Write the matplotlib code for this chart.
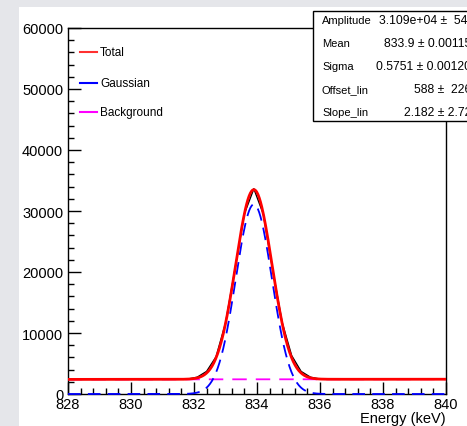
import matplotlib
matplotlib.use("Agg")
import matplotlib.pyplot as plt
import numpy as np
from matplotlib.lines import Line2D
from matplotlib.patches import Rectangle

plt.rcParams['font.family'] = ['Liberation Sans', 'DejaVu Sans']

energy = [828.0, 828.5, 829.1, 829.7, 830.3, 830.9, 831.5, 831.8, 832.1, 832.4,
          832.7, 833.0, 833.3, 833.6, 833.9, 834.2, 834.5, 834.8, 835.1, 835.4,
          835.7, 836.0, 836.3, 836.9, 837.5, 838.1, 838.7, 839.3, 839.9, 840.0]
counts = [2395, 2398, 2400, 2399, 2402, 2401, 2404, 2445, 2750, 3700,
          6100, 11600, 20450, 29550, 33650, 29500, 20300, 11700, 6300, 3700,
          2750, 2450, 2413, 2412, 2414, 2416, 2418, 2419, 2420, 2421]

# --- fit results (stats box) ---
amplitude = 3.109e4
mean = 833.9
sigma = 0.5751
offset_lin = 588
slope_lin = 2.182
stat_names = ['Amplitude', 'Mean', 'Sigma', 'Offset_lin', 'Slope_lin']
stat_values = ['3.109e+04 ±  54.', '833.9 ± 0.00115', '0.5751 ± 0.00120',
               '588 ±  226', '2.182 ± 2.72']

x_range = (828, 840)
y_range = (0, 60000)
x_ticks = [828, 830, 832, 834, 836, 838, 840]
y_ticks = [0, 10000, 20000, 30000, 40000, 50000, 60000]

W, H = 467, 427
fig = plt.figure(figsize=(W / 100, H / 100), dpi=100, facecolor='#e5e6ea')

def fx(px):
    return px / W

def fy(py):
    return 1 - py / H

# white pad area
fig.add_artist(Rectangle((fx(19), 0), 1, fy(8), transform=fig.transFigure,
                         facecolor='white', edgecolor='none', zorder=0))

ax = fig.add_axes([fx(68), fy(395), fx(446) - fx(68), fy(29) - fy(395)])
ax.set_xlim(*x_range)
ax.set_ylim(*y_range)

# fit components
xs = np.linspace(x_range[0], x_range[1], 600)
gauss = amplitude * np.exp(-0.5 * ((xs - mean) / sigma) ** 2)
bkg = offset_lin + slope_lin * xs
total = gauss + bkg

ax.plot(energy, counts, color='black', lw=1.0, zorder=2)
ax.plot(xs, bkg, color='#ff00ff', lw=1.3, ls=(0, (8, 5)), zorder=3)
ax.plot(xs, gauss, color='#0000ff', lw=1.3, ls=(0, (7, 4)), zorder=4, clip_on=False)
ax.plot(xs, total, color='#ff0000', lw=2.0, zorder=5)

# ROOT-like axes
ax.set_xticks(x_ticks)
ax.set_yticks(y_ticks)
ax.set_xticks(np.arange(828, 840.01, 0.4), minor=True)
ax.set_yticks(np.arange(0, 60001, 2000), minor=True)
ax.tick_params(which='both', direction='in', top=False, right=False, color='black')
ax.tick_params(which='major', length=9, width=1, labelsize=10.5, pad=2)
ax.tick_params(which='minor', length=4.5, width=1)
ax.tick_params(axis='y', which='major', pad=3.5)
for s in ax.spines.values():
    s.set_linewidth(1)

fig.text(fx(446), fy(419), 'Energy (keV)', ha='right', va='center', fontsize=10.5)

# legend
leg_items = [('Total', '#ff3030', 53), ('Gaussian', '#0000ff', 84), ('Background', '#ff00ff', 113)]
for lab, col, py in leg_items:
    fig.add_artist(Line2D([fx(80), fx(97)], [fy(py), fy(py)], color=col, lw=1.5,
                          transform=fig.transFigure, zorder=10))
    fig.text(fx(100), fy(py), lab, ha='left', va='center', fontsize=8.5, zorder=10)

# stats box (runs off the right edge, as in the original canvas)
fig.add_artist(Rectangle((fx(313), fy(122)), fx(300), fy(12) - fy(122),
                         transform=fig.transFigure, facecolor='white',
                         edgecolor='black', lw=1, zorder=11, clip_on=False))
for i, (name, val) in enumerate(zip(stat_names, stat_values)):
    py = 21 + 23 * i
    fig.text(fx(322), fy(py), name, ha='left', va='center', fontsize=8, zorder=12)
    fig.text(fx(471), fy(py), val, ha='right', va='center', fontsize=8.7, zorder=12)

fig.savefig('out.png', dpi=100, facecolor=fig.get_facecolor())
